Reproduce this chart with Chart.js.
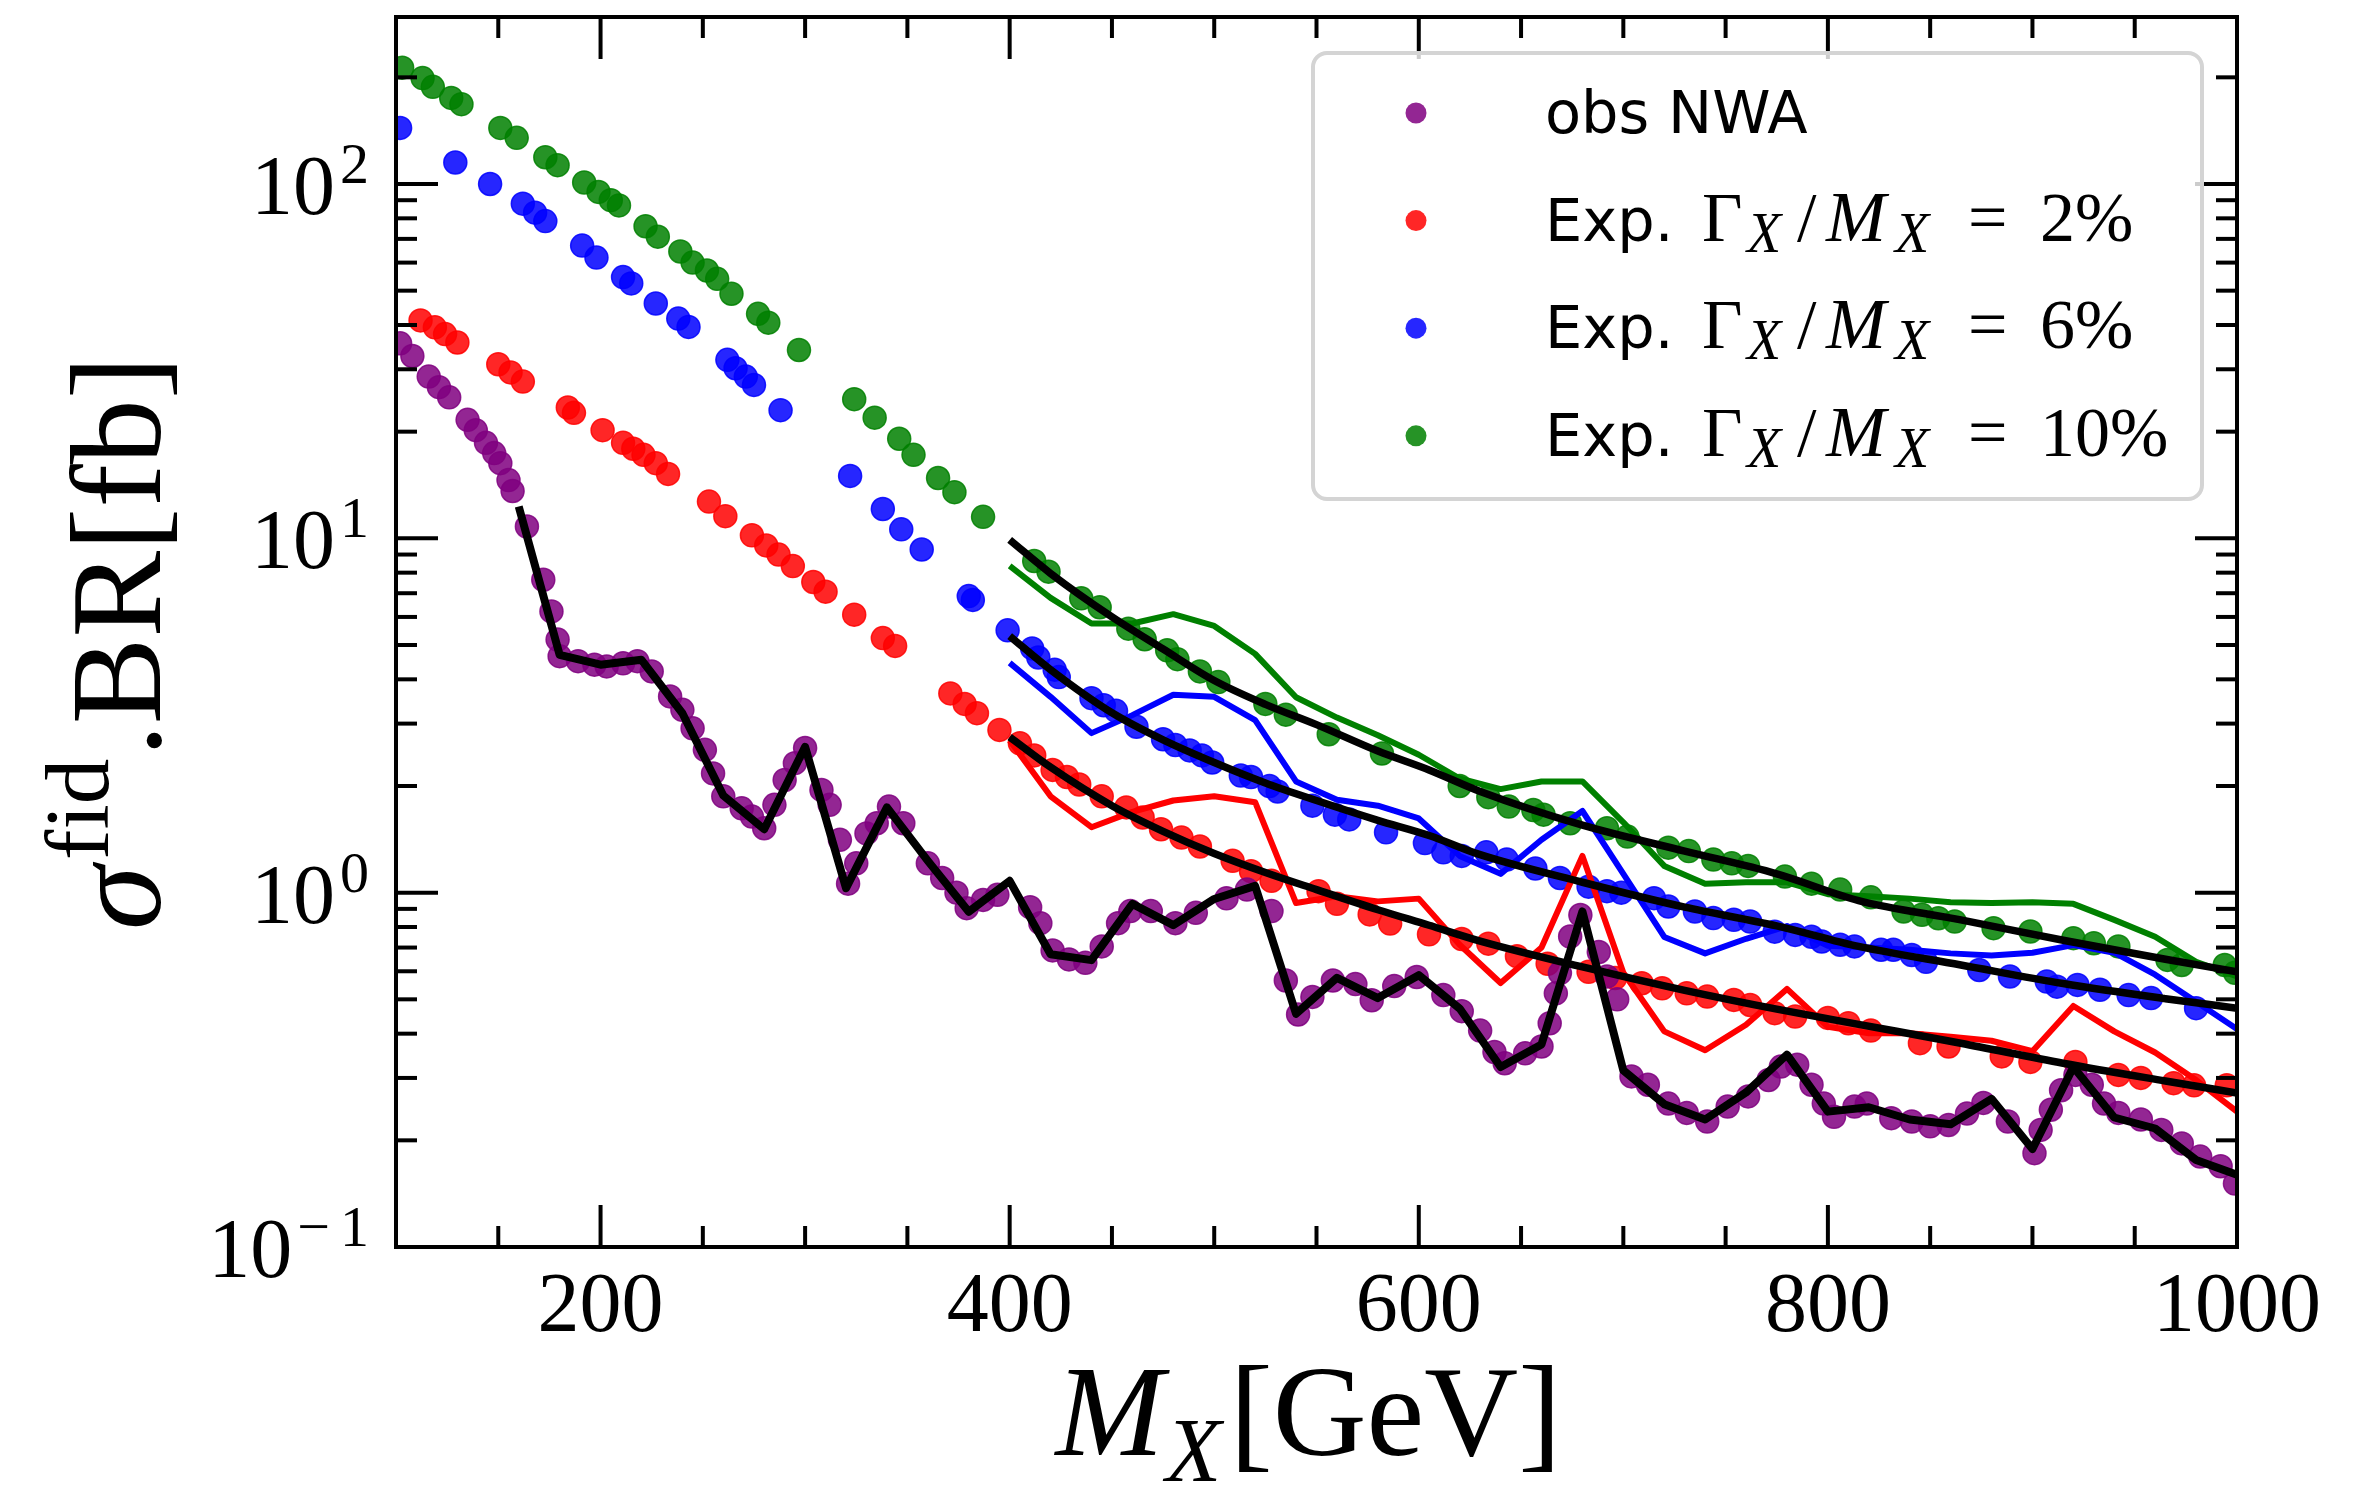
<!DOCTYPE html>
<html>
<head>
<meta charset="utf-8">
<title>Fiducial cross-section limits vs M_X</title>
<script src="https://cdn.jsdelivr.net/npm/chart.js@4.4.1/dist/chart.umd.min.js"></script>
<style>
    html, body { margin: 0; padding: 0; background: #fff; }
    #chart { display: block; }
</style>
</head>
<body>
<canvas id="chart" width="2372" height="1499"></canvas>
<script>
// Observed limit, NWA (purple points)
const obsMass = [102, 108, 116, 121, 126, 135, 139, 144, 148, 151, 155, 157, 164, 172, 176, 179, 180, 189, 197, 203,
    211, 218, 225, 234, 240, 245, 251, 255, 260, 269, 274, 280, 285, 290, 295, 300, 308, 312, 317, 321,
    325, 330, 335, 341, 348, 360, 367, 374, 379, 387, 394, 410, 415, 421, 429, 437, 445, 453, 459, 469,
    481, 491, 506, 516, 528, 535, 541, 548, 558, 569, 577, 588, 599, 612, 621, 630, 637, 642, 652, 660,
    664, 667, 669, 674, 679, 688, 692, 697, 704, 712, 722, 731, 741, 751, 761, 771, 777, 785, 792, 798,
    803, 813, 819, 831, 841, 850, 859, 868, 876, 888, 901, 904, 909, 914, 921, 929, 935, 942, 953, 963,
    973, 982, 992, 999];
const obsLimit = [35.5, 32.7, 28.6, 26.7, 25.0, 21.6, 20.2, 18.6, 17.4, 16.3, 14.6, 13.6, 10.8, 7.64, 6.22, 5.18, 4.65, 4.50, 4.40, 4.35,
    4.44, 4.50, 4.21, 3.58, 3.28, 2.91, 2.53, 2.17, 1.87, 1.73, 1.64, 1.52, 1.77, 2.08, 2.32, 2.56, 1.95, 1.77, 1.41, 1.06,
    1.21, 1.47, 1.57, 1.75, 1.57, 1.21, 1.10, 1.00, 0.904, 0.954, 0.986, 0.91, 0.82, 0.687, 0.648, 0.634, 0.705, 0.82, 0.887, 0.887,
    0.82, 0.877, 0.964, 1.02, 0.887, 0.565, 0.453, 0.508, 0.565, 0.552, 0.497, 0.545, 0.578, 0.514, 0.463, 0.408, 0.355, 0.33, 0.352, 0.368,
    0.428, 0.52, 0.593, 0.752, 0.865, 0.68, 0.58, 0.50, 0.303, 0.287, 0.254, 0.239, 0.226, 0.249, 0.266, 0.296, 0.323, 0.327, 0.287, 0.254,
    0.233, 0.249, 0.254, 0.231, 0.226, 0.219, 0.221, 0.238, 0.255, 0.226, 0.184, 0.214, 0.244, 0.277, 0.306, 0.287, 0.254, 0.239, 0.229, 0.214,
    0.196, 0.18, 0.169, 0.151];

// Expected limits, Gamma/M = 2% (red points)
const exp2Mass = [112, 119, 124, 130, 150, 156, 162, 184, 187, 201, 211, 216, 221, 227, 233, 253, 261, 274, 281, 287,
    294, 304, 310, 324, 338, 344, 371, 378, 384, 395, 405, 412, 421, 428, 434, 445, 457, 465, 474, 484,
    493, 509, 518, 528, 551, 560, 576, 586, 605, 621, 634, 648, 663, 683, 696, 709, 719, 731, 741, 754,
    762, 774, 784, 800, 810, 821, 845, 859, 885, 899, 921, 942, 953, 969, 979, 995];
const exp2Limit = [41.2, 39.4, 37.7, 35.7, 31.0, 29.4, 27.7, 23.4, 22.6, 20.2, 18.6, 17.9, 17.2, 16.3, 15.2, 12.7, 11.55, 10.2, 9.55, 9.0,
    8.35, 7.53, 7.07, 6.09, 5.23, 4.97, 3.65, 3.41, 3.21, 2.88, 2.64, 2.44, 2.22, 2.12, 2.02, 1.87, 1.74, 1.63, 1.51, 1.43,
    1.35, 1.23, 1.15, 1.08, 1.01, 0.93, 0.868, 0.818, 0.763, 0.74, 0.718, 0.662, 0.63, 0.598, 0.574, 0.555, 0.537, 0.52, 0.509, 0.498,
    0.482, 0.457, 0.447, 0.443, 0.428, 0.408, 0.376, 0.368, 0.345, 0.333, 0.333, 0.306, 0.30, 0.29, 0.286, 0.286];

// Expected limits, Gamma/M = 6% (blue points)
const exp6Mass = [102, 129, 146, 162, 168, 173, 191, 198, 211, 215, 227, 238, 243, 262, 266, 271, 275, 288, 322, 338,
    347, 357, 380, 382, 399, 411, 414, 422, 424, 440, 446, 452, 462, 475, 481, 488, 494, 499, 513, 518,
    527, 531, 548, 559, 566, 584, 603, 612, 621, 633, 643, 657, 669, 683, 692, 699, 715, 722, 735, 744,
    754, 762, 774, 784, 792, 797, 806, 813, 826, 832, 841, 848, 874, 889, 907, 912, 922, 933, 947, 958, 980];
const exp6Limit = [144, 115, 100, 88, 83, 78.6, 67, 62, 54.6, 52.4, 46, 41.7, 39.5, 31.9, 30.2, 28.6, 27.1, 23, 15, 12.1,
    10.6, 9.3, 6.87, 6.7, 5.5, 4.89, 4.61, 4.26, 4.06, 3.54, 3.38, 3.26, 2.94, 2.71, 2.61, 2.52, 2.44, 2.33, 2.14, 2.12,
    2.0, 1.93, 1.76, 1.66, 1.61, 1.48, 1.38, 1.30, 1.27, 1.30, 1.24, 1.17, 1.10, 1.04, 1.01, 1.0, 0.965, 0.914, 0.885, 0.848,
    0.838, 0.829, 0.776, 0.76, 0.751, 0.728, 0.713, 0.705, 0.69, 0.69, 0.667, 0.638, 0.605, 0.58, 0.561, 0.543, 0.549, 0.532, 0.514, 0.504, 0.472];

// Expected limits, Gamma/M = 10% (green points)
const exp10Mass = [103, 113, 118, 127, 132, 151, 159, 173, 179, 192, 199, 205, 209, 222, 228, 239, 245, 252, 257, 264,
    277, 282, 297, 324, 334, 346, 353, 365, 373, 387, 412, 419, 435, 444, 458, 466, 477, 482, 493, 502,
    525, 535, 556, 582, 620, 634, 644, 656, 661, 674, 692, 702, 722, 732, 744, 753, 761, 779, 792, 806,
    821, 837, 846, 854, 862, 881, 899, 920, 930, 942, 966, 973, 994, 999];
const exp10Limit = [213, 199, 188, 175, 168, 144, 135, 119, 113, 101, 95, 90, 87, 76, 71, 64.5, 60, 57, 54, 49,
    43, 40.6, 34, 24.7, 21.9, 19.1, 17.2, 14.8, 13.5, 11.5, 8.63, 8.05, 6.77, 6.39, 5.56, 5.19, 4.83, 4.56, 4.21, 3.93,
    3.41, 3.18, 2.80, 2.47, 2.0, 1.86, 1.75, 1.71, 1.66, 1.57, 1.52, 1.44, 1.34, 1.31, 1.24, 1.21, 1.19, 1.11, 1.06, 1.02,
    0.97, 0.885, 0.866, 0.847, 0.829, 0.794, 0.777, 0.744, 0.72, 0.705, 0.646, 0.625, 0.625, 0.594];

// Coarse observed curve (black, jagged)
const obsLineMass = [160, 180, 200, 220, 240, 260, 280, 300, 320, 340, 360, 380, 400, 420, 440, 460, 480, 500, 520, 540,
    560, 580, 600, 620, 640, 660, 680, 700, 720, 740, 760, 780, 800, 820, 840, 860, 880, 900, 920, 940,
    960, 980, 1000];
const obsLine = [12.3, 4.69, 4.40, 4.54, 3.21, 1.88, 1.51, 2.58, 1.03, 1.74, 1.23, 0.883, 1.08, 0.67, 0.645, 0.93, 0.81, 0.96, 1.045, 0.455,
    0.575, 0.504, 0.585, 0.471, 0.322, 0.373, 0.885, 0.315, 0.253, 0.229, 0.273, 0.349, 0.241, 0.248, 0.229, 0.222, 0.262, 0.189, 0.322, 0.232,
    0.216, 0.176, 0.16];

// Coarse expected curves (coloured, jagged)
const lineMass = [400, 420, 440, 460, 480, 500, 520, 540, 560, 580, 600, 620, 640, 660, 680, 700, 720, 740, 760, 780,
    800, 820, 840, 860, 880, 900, 920, 940, 960, 980, 1000];
const exp2Line = [2.69, 1.87, 1.53, 1.69, 1.82, 1.87, 1.80, 0.935, 0.977, 0.945, 0.962, 0.713, 0.556, 0.70, 1.27, 0.594, 0.406, 0.359, 0.424, 0.535,
    0.418, 0.401, 0.401, 0.392, 0.382, 0.357, 0.479, 0.406, 0.354, 0.296, 0.241];
const exp6Line = [4.45, 3.57, 2.82, 3.17, 3.62, 3.57, 3.07, 2.06, 1.83, 1.76, 1.62, 1.27, 1.13, 1.41, 1.70, 1.13, 0.75, 0.674, 0.741, 0.805,
    0.708, 0.70, 0.69, 0.674, 0.665, 0.677, 0.711, 0.677, 0.587, 0.492, 0.412];
const exp10Line = [8.36, 6.79, 5.75, 5.75, 6.11, 5.66, 4.72, 3.56, 3.12, 2.78, 2.45, 2.10, 1.96, 2.06, 2.06, 1.58, 1.19, 1.06, 1.07, 1.07,
    0.99, 0.977, 0.962, 0.94, 0.935, 0.94, 0.93, 0.838, 0.751, 0.638, 0.58];

// Smooth fits through the expected points (black)
const fitMass = [400, 420, 450, 475, 500, 525, 550, 580, 605, 630, 680, 730, 775, 815, 865, 915, 965, 1000];
const fit2 = [2.75, 2.26, 1.76, 1.49, 1.29, 1.14, 1.02, 0.895, 0.809, 0.73, 0.617, 0.53, 0.469, 0.425, 0.376, 0.33, 0.294, 0.272];
const fit6 = [5.3, 4.26, 3.22, 2.70, 2.33, 2.04, 1.82, 1.60, 1.45, 1.28, 1.07, 0.91, 0.806, 0.705, 0.625, 0.554, 0.502, 0.472];
const fit10 = [9.9, 7.96, 6.0, 4.87, 3.97, 3.40, 2.98, 2.51, 2.22, 1.93, 1.55, 1.31, 1.13, 0.95, 0.838, 0.734, 0.649, 0.598];

// Axis ticks
const xTicks = [200, 400, 600, 800, 1000];
const yTicks = [0.1, 1, 10, 100];
const yTickExp = ['\u22121', '0', '1', '2'];

// Legend entries
const legendNames = ['obs NWA', 'Exp.', 'Exp.', 'Exp.'];
const legendWidths = ['', '2%', '6%', '10%'];
const legendColors = ['128,0,128', '255,0,0', '0,0,255', '0,128,0'];

const SERIF = '"Liberation Serif", "DejaVu Serif", serif';
const SANS = '"DejaVu Sans", sans-serif';

function points(xs, ys) {
    const n = Math.min(xs.length, ys.length);
    const out = [];
    for (let i = 0; i < n; i++) out.push({ x: xs[i], y: ys[i] });
    return out;
}

function dots(label, xs, ys, rgb) {
    return {
        label: label,
        data: points(xs, ys),
        showLine: false,
        pointRadius: 11.5,
        pointHoverRadius: 11.5,
        pointBorderWidth: 1.5,
        backgroundColor: `rgba(${rgb},0.85)`,
        borderColor: `rgba(${rgb},0.85)`,
        clip: 0,
        order: 3
    };
}

function curve(label, xs, ys, color, width, smooth, order) {
    return {
        label: label,
        data: points(xs, ys),
        showLine: true,
        pointRadius: 0,
        pointHoverRadius: 0,
        borderColor: color,
        backgroundColor: color,
        borderWidth: width,
        borderJoinStyle: 'round',
        tension: smooth ? 0.4 : 0,
        cubicInterpolationMode: smooth ? 'monotone' : 'default',
        fill: false,
        clip: 0,
        order: order
    };
}

// frame + inward ticks on all four sides
const axesFrame = {
    id: 'axesFrame',
    afterDatasetsDraw(chart) {
        const { ctx, chartArea: a, scales: { x, y } } = chart;
        ctx.save();
        ctx.strokeStyle = '#000';
        ctx.lineWidth = 4;
        const seg = (x1, y1, x2, y2) => {
            ctx.beginPath();
            ctx.moveTo(x1, y1);
            ctx.lineTo(x2, y2);
            ctx.stroke();
        };
        const xMinor = [];
        for (let v = 150; v < 1000; v += 50) if (!xTicks.includes(v)) xMinor.push(v);
        xTicks.forEach(v => {
            const p = x.getPixelForValue(v);
            seg(p, a.bottom, p, a.bottom - 42);
            seg(p, a.top, p, a.top + 42);
        });
        xMinor.forEach(v => {
            const p = x.getPixelForValue(v);
            seg(p, a.bottom, p, a.bottom - 21);
            seg(p, a.top, p, a.top + 21);
        });
        yTicks.forEach(v => {
            const p = y.getPixelForValue(v);
            seg(a.left, p, a.left + 42, p);
            seg(a.right, p, a.right - 42, p);
        });
        yTicks.forEach(d => {
            for (let k = 2; k <= 9; k++) {
                const v = d * k;
                if (v >= y.max) continue;
                const p = y.getPixelForValue(v);
                seg(a.left, p, a.left + 21, p);
                seg(a.right, p, a.right - 21, p);
            }
        });
        ctx.strokeRect(a.left, a.top, a.right - a.left, a.bottom - a.top);
        ctx.restore();
    }
};

// legend box (drawn by hand so the math label can have subscripts)
const legendBox = {
    id: 'legendBox',
    afterDatasetsDraw(chart) {
        const ctx = chart.ctx;
        ctx.save();
        ctx.beginPath();
        ctx.roundRect(1313, 53, 889, 446, 14);
        ctx.fillStyle = 'rgba(255,255,255,0.8)';
        ctx.fill();
        ctx.strokeStyle = '#d4d4d4';
        ctx.lineWidth = 4;
        ctx.stroke();

        ctx.textAlign = 'left';
        ctx.textBaseline = 'alphabetic';
        legendNames.forEach((name, i) => {
            const cy = 113 + i * 107.6;
            ctx.beginPath();
            ctx.arc(1416, cy, 10.5, 0, Math.PI * 2);
            ctx.fillStyle = `rgba(${legendColors[i]},0.85)`;
            ctx.fill();

            const base = cy + 20;
            ctx.fillStyle = '#000';
            ctx.font = `59px ${SANS}`;
            ctx.fillText(name, 1545, base);
            if (!legendWidths[i]) return;
            const m = 1702;
            ctx.font = `70px ${SERIF}`;
            ctx.fillText('\u0393', m, base);
            ctx.fillText('/', m + 95, base);
            ctx.fillText('=', m + 266, base);
            ctx.fillText(legendWidths[i], m + 338, base);
            ctx.font = `italic 72px ${SERIF}`;
            ctx.fillText('M', m + 124, base);
            ctx.font = `italic 56px ${SERIF}`;
            ctx.fillText('X', m + 45, base + 11);
            ctx.fillText('X', m + 193, base + 11);
        });
        ctx.restore();
    }
};

function drawRun(ctx, pieces) {
    let w = 0;
    pieces.forEach(p => {
        ctx.font = p.font;
        p.w = ctx.measureText(p.t).width;
        w += p.w + (p.gap || 0);
    });
    return w;
}

function paintRun(ctx, pieces, x0, base) {
    let x = x0;
    pieces.forEach(p => {
        x += p.gap || 0;
        ctx.font = p.font;
        ctx.fillText(p.t, x, base + (p.dy || 0));
        x += p.w;
    });
}

// tick labels and axis titles
const axisText = {
    id: 'axisText',
    afterDraw(chart) {
        const { ctx, chartArea: a, scales: { x, y } } = chart;
        ctx.save();
        ctx.fillStyle = '#000';
        ctx.textBaseline = 'alphabetic';

        // x tick labels
        ctx.textAlign = 'center';
        ctx.font = `84px ${SERIF}`;
        xTicks.forEach(v => ctx.fillText(String(v), x.getPixelForValue(v), 1331));

        // y tick labels 10^n
        ctx.textAlign = 'right';
        yTicks.forEach((v, i) => {
            const p = y.getPixelForValue(v);
            const e = yTickExp[i];
            ctx.font = `58px ${SERIF}`;
            let ew;
            if (e.length > 1) {
                // wide minus like the TeX original
                const w1 = ctx.measureText(e.slice(1)).width;
                ctx.fillText(e.slice(1), 369, p - 1);
                ctx.fillText(e[0], 369 - w1 - 10, p - 1);
                ew = w1 + 10 + ctx.measureText(e[0]).width;
            } else {
                ew = ctx.measureText(e).width;
                ctx.fillText(e, 369, p - 1);
            }
            ctx.font = `84px ${SERIF}`;
            ctx.fillText('10', 369 - ew - 5, p + 30);
        });

        // x title: M_X[GeV]
        ctx.textAlign = 'left';
        const xt = [
            { t: 'M', font: `italic 130px ${SERIF}` },
            { t: 'X', font: `italic 91px ${SERIF}`, dy: 26, gap: 2 },
            { t: '[GeV]', font: `130px ${SERIF}`, gap: 8 }
        ];
        const xw = drawRun(ctx, xt);
        paintRun(ctx, xt, (a.left + a.right) / 2 - xw / 2 - 8, 1455);

        // y title: sigma^fid.BR[fb]
        const yt = [
            { t: '\u03C3', font: `italic 130px ${SERIF}` },
            { t: 'fid', font: `91px ${SERIF}`, dy: -52, gap: 6 },
            { t: '.BR[fb]', font: `130px ${SERIF}`, gap: 2 }
        ];
        const yw = drawRun(ctx, yt);
        ctx.translate(160, 643);
        ctx.rotate(-Math.PI / 2);
        paintRun(ctx, yt, -yw / 2, 0);
        ctx.restore();
    }
};

function buildChart() {
    const datasets = [
        curve('obs (coarse)', obsLineMass, obsLine, '#000', 8, false, 1),
        curve('fit 2%', fitMass, fit2, '#000', 7.5, true, 1),
        curve('fit 6%', fitMass, fit6, '#000', 7.5, true, 1),
        curve('fit 10%', fitMass, fit10, '#000', 7.5, true, 1),
        curve('Exp. 2% (coarse)', lineMass, exp2Line, '#ff0000', 6, false, 2),
        curve('Exp. 6% (coarse)', lineMass, exp6Line, '#0000ff', 6, false, 2),
        curve('Exp. 10% (coarse)', lineMass, exp10Line, '#008000', 6, false, 2),
        dots('obs NWA', obsMass, obsLimit, legendColors[0]),
        dots('Exp. \u0393X/MX = 2%', exp2Mass, exp2Limit, legendColors[1]),
        dots('Exp. \u0393X/MX = 6%', exp6Mass, exp6Limit, legendColors[2]),
        dots('Exp. \u0393X/MX = 10%', exp10Mass, exp10Limit, legendColors[3])
    ];

    new Chart(document.getElementById('chart'), {
        type: 'scatter',
        data: { datasets: datasets },
        options: {
            responsive: false,
            animation: false,
            events: [],
            layout: { padding: { left: 0, right: 135, top: 17, bottom: 0 } },
            plugins: {
                legend: { display: false },
                tooltip: { enabled: false }
            },
            scales: {
                x: {
                    type: 'linear',
                    min: 100,
                    max: 1000,
                    grid: { display: false },
                    border: { display: false },
                    ticks: { display: false },
                    afterFit: s => { s.height = 252; }
                },
                y: {
                    type: 'logarithmic',
                    min: 0.1,
                    max: 296,
                    grid: { display: false },
                    border: { display: false },
                    ticks: { display: false },
                    afterFit: s => { s.width = 396; }
                }
            }
        },
        plugins: [axesFrame, legendBox, axisText]
    });
}

Promise.all([
    document.fonts.load(`84px ${SERIF}`),
    document.fonts.load(`italic 130px ${SERIF}`),
    document.fonts.load(`59px ${SANS}`)
]).catch(() => null).then(buildChart);
</script>
</body>
</html>
